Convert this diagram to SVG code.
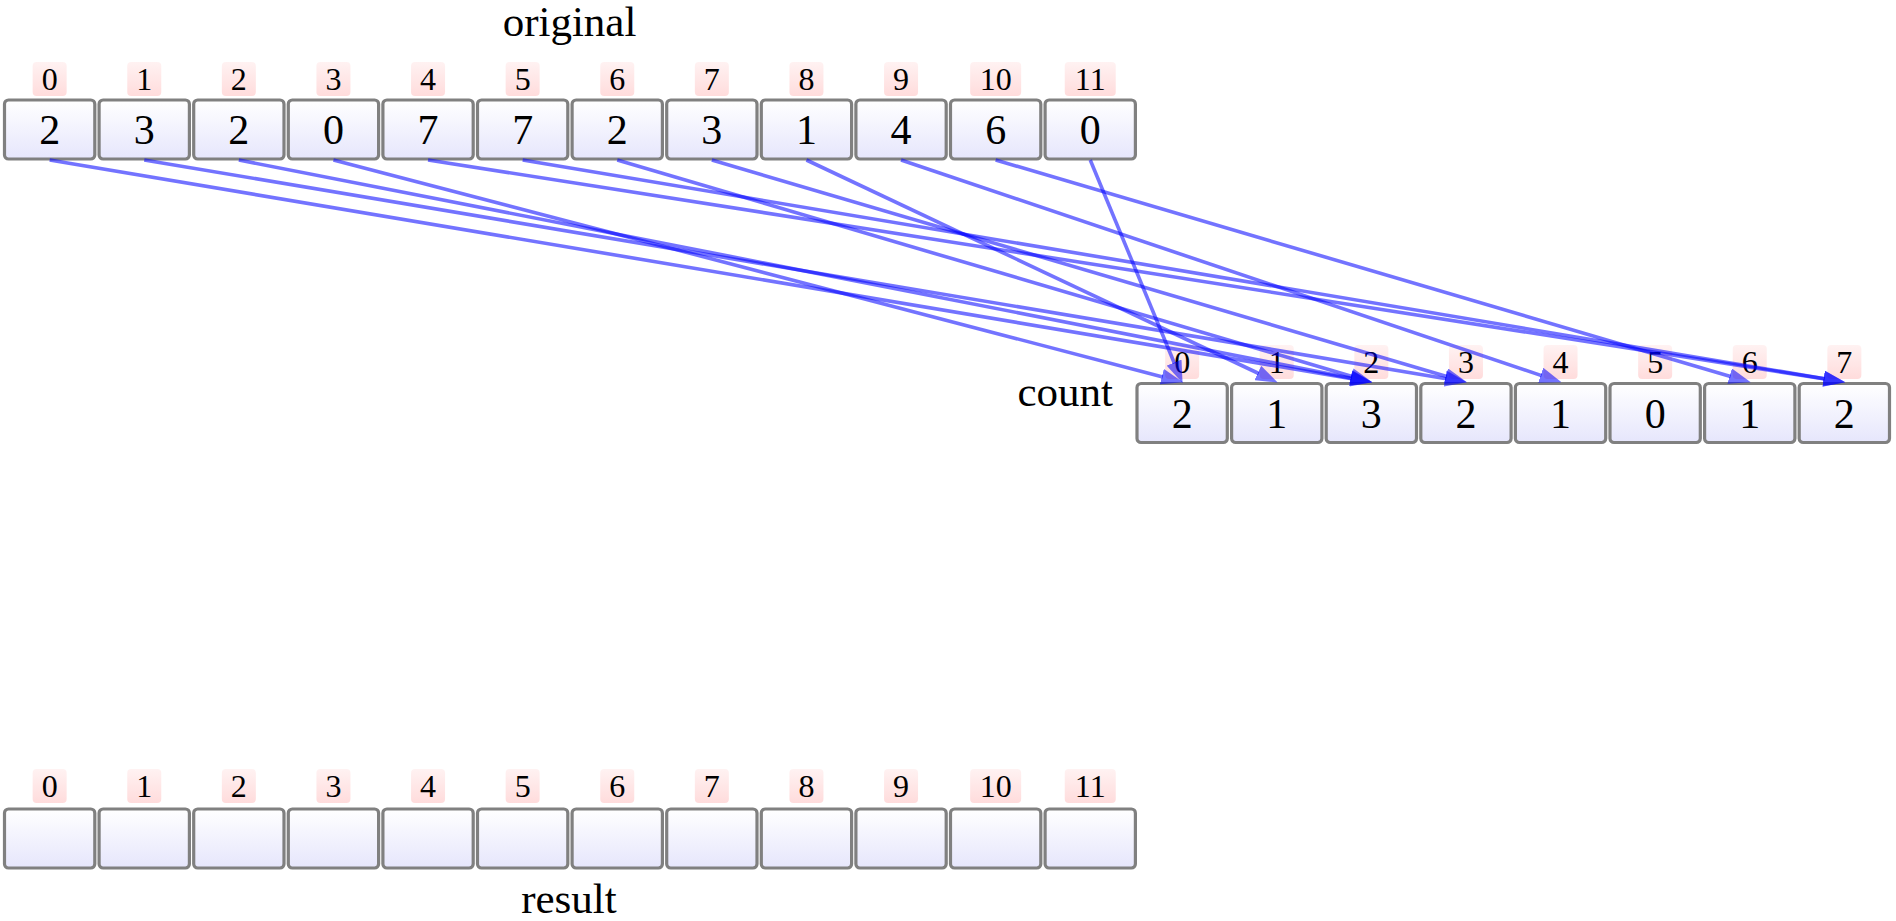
<svg xmlns="http://www.w3.org/2000/svg" width="1896" height="921" viewBox="0 0 1896 921">
<style>
.cell{fill:url(#gCell);stroke:#808080;stroke-width:3.2}
.idx{fill:url(#gIdx);stroke:none}
.vt{font-family:"Liberation Serif","Times New Roman",serif;font-size:42px;text-anchor:middle;fill:#000}
.it{font-family:"Liberation Serif","Times New Roman",serif;font-size:32px;text-anchor:middle;fill:#000}
.lbl{font-family:"Liberation Serif","Times New Roman",serif;font-size:43px;fill:#000}
.arr{fill:none;stroke:#0000ff;stroke-opacity:0.55;stroke-width:3.6;marker-end:url(#head)}
</style>
<defs>
<linearGradient id="gCell" x1="0" y1="0" x2="0" y2="1"><stop offset="0" stop-color="#ffffff"/><stop offset="1" stop-color="#e6e6fc"/></linearGradient>
<linearGradient id="gIdx" x1="0" y1="0" x2="0" y2="1"><stop offset="0" stop-color="#fff2f2"/><stop offset="1" stop-color="#ffdcdc"/></linearGradient>
<marker id="head" markerUnits="userSpaceOnUse" viewBox="0 0 22 16" markerWidth="22" markerHeight="16" refX="1" refY="8" orient="auto"><path d="M0,0 L22,8 L0,16 Z" fill="#0000ff" fill-opacity="0.55"/></marker>
</defs>
<rect width="1896" height="921" fill="#ffffff"/>

<text class="lbl" x="569.5" y="36" text-anchor="middle">original</text>
<text class="lbl" x="1113" y="406" text-anchor="end">count</text>
<text class="lbl" x="569" y="913" text-anchor="middle">result</text>

<g id="original">
<g id="orig-0" transform="translate(4.5,100)"><rect class="idx" x="28.15" y="-38" width="34" height="34" rx="4"/><text class="it" x="45.15" y="-10">0</text><rect class="cell" width="90.3" height="59" rx="4"/><text class="vt" x="45.15" y="44">2</text></g>
<g id="orig-1" transform="translate(99.1,100)"><rect class="idx" x="28.15" y="-38" width="34" height="34" rx="4"/><text class="it" x="45.15" y="-10">1</text><rect class="cell" width="90.3" height="59" rx="4"/><text class="vt" x="45.15" y="44">3</text></g>
<g id="orig-2" transform="translate(193.7,100)"><rect class="idx" x="28.15" y="-38" width="34" height="34" rx="4"/><text class="it" x="45.15" y="-10">2</text><rect class="cell" width="90.3" height="59" rx="4"/><text class="vt" x="45.15" y="44">2</text></g>
<g id="orig-3" transform="translate(288.3,100)"><rect class="idx" x="28.15" y="-38" width="34" height="34" rx="4"/><text class="it" x="45.15" y="-10">3</text><rect class="cell" width="90.3" height="59" rx="4"/><text class="vt" x="45.15" y="44">0</text></g>
<g id="orig-4" transform="translate(382.9,100)"><rect class="idx" x="28.15" y="-38" width="34" height="34" rx="4"/><text class="it" x="45.15" y="-10">4</text><rect class="cell" width="90.3" height="59" rx="4"/><text class="vt" x="45.15" y="44">7</text></g>
<g id="orig-5" transform="translate(477.5,100)"><rect class="idx" x="28.15" y="-38" width="34" height="34" rx="4"/><text class="it" x="45.15" y="-10">5</text><rect class="cell" width="90.3" height="59" rx="4"/><text class="vt" x="45.15" y="44">7</text></g>
<g id="orig-6" transform="translate(572.1,100)"><rect class="idx" x="28.15" y="-38" width="34" height="34" rx="4"/><text class="it" x="45.15" y="-10">6</text><rect class="cell" width="90.3" height="59" rx="4"/><text class="vt" x="45.15" y="44">2</text></g>
<g id="orig-7" transform="translate(666.7,100)"><rect class="idx" x="28.15" y="-38" width="34" height="34" rx="4"/><text class="it" x="45.15" y="-10">7</text><rect class="cell" width="90.3" height="59" rx="4"/><text class="vt" x="45.15" y="44">3</text></g>
<g id="orig-8" transform="translate(761.3,100)"><rect class="idx" x="28.15" y="-38" width="34" height="34" rx="4"/><text class="it" x="45.15" y="-10">8</text><rect class="cell" width="90.3" height="59" rx="4"/><text class="vt" x="45.15" y="44">1</text></g>
<g id="orig-9" transform="translate(855.9,100)"><rect class="idx" x="28.15" y="-38" width="34" height="34" rx="4"/><text class="it" x="45.15" y="-10">9</text><rect class="cell" width="90.3" height="59" rx="4"/><text class="vt" x="45.15" y="44">4</text></g>
<g id="orig-10" transform="translate(950.5,100)"><rect class="idx" x="19.65" y="-38" width="51" height="34" rx="4"/><text class="it" x="45.15" y="-10">10</text><rect class="cell" width="90.3" height="59" rx="4"/><text class="vt" x="45.15" y="44">6</text></g>
<g id="orig-11" transform="translate(1045.1,100)"><rect class="idx" x="19.65" y="-38" width="51" height="34" rx="4"/><text class="it" x="45.15" y="-10">11</text><rect class="cell" width="90.3" height="59" rx="4"/><text class="vt" x="45.15" y="44">0</text></g>
</g>

<g id="count">
<g id="count-0" transform="translate(1137,383.5)"><rect class="idx" x="28.15" y="-38.5" width="34" height="34" rx="4"/><text class="it" x="45.15" y="-11">0</text><rect class="cell" width="90.3" height="59" rx="4"/><text class="vt" x="45.15" y="44">2</text></g>
<g id="count-1" transform="translate(1231.6,383.5)"><rect class="idx" x="28.15" y="-38.5" width="34" height="34" rx="4"/><text class="it" x="45.15" y="-11">1</text><rect class="cell" width="90.3" height="59" rx="4"/><text class="vt" x="45.15" y="44">1</text></g>
<g id="count-2" transform="translate(1326.2,383.5)"><rect class="idx" x="28.15" y="-38.5" width="34" height="34" rx="4"/><text class="it" x="45.15" y="-11">2</text><rect class="cell" width="90.3" height="59" rx="4"/><text class="vt" x="45.15" y="44">3</text></g>
<g id="count-3" transform="translate(1420.8,383.5)"><rect class="idx" x="28.15" y="-38.5" width="34" height="34" rx="4"/><text class="it" x="45.15" y="-11">3</text><rect class="cell" width="90.3" height="59" rx="4"/><text class="vt" x="45.15" y="44">2</text></g>
<g id="count-4" transform="translate(1515.4,383.5)"><rect class="idx" x="28.15" y="-38.5" width="34" height="34" rx="4"/><text class="it" x="45.15" y="-11">4</text><rect class="cell" width="90.3" height="59" rx="4"/><text class="vt" x="45.15" y="44">1</text></g>
<g id="count-5" transform="translate(1610,383.5)"><rect class="idx" x="28.15" y="-38.5" width="34" height="34" rx="4"/><text class="it" x="45.15" y="-11">5</text><rect class="cell" width="90.3" height="59" rx="4"/><text class="vt" x="45.15" y="44">0</text></g>
<g id="count-6" transform="translate(1704.6,383.5)"><rect class="idx" x="28.15" y="-38.5" width="34" height="34" rx="4"/><text class="it" x="45.15" y="-11">6</text><rect class="cell" width="90.3" height="59" rx="4"/><text class="vt" x="45.15" y="44">1</text></g>
<g id="count-7" transform="translate(1799.2,383.5)"><rect class="idx" x="28.15" y="-38.5" width="34" height="34" rx="4"/><text class="it" x="45.15" y="-11">7</text><rect class="cell" width="90.3" height="59" rx="4"/><text class="vt" x="45.15" y="44">2</text></g>
</g>

<g id="result">
<g id="res-0" transform="translate(4.5,809)"><rect class="idx" x="28.15" y="-40" width="34" height="34" rx="4"/><text class="it" x="45.15" y="-12">0</text><rect class="cell" width="90.3" height="59" rx="4"/></g>
<g id="res-1" transform="translate(99.1,809)"><rect class="idx" x="28.15" y="-40" width="34" height="34" rx="4"/><text class="it" x="45.15" y="-12">1</text><rect class="cell" width="90.3" height="59" rx="4"/></g>
<g id="res-2" transform="translate(193.7,809)"><rect class="idx" x="28.15" y="-40" width="34" height="34" rx="4"/><text class="it" x="45.15" y="-12">2</text><rect class="cell" width="90.3" height="59" rx="4"/></g>
<g id="res-3" transform="translate(288.3,809)"><rect class="idx" x="28.15" y="-40" width="34" height="34" rx="4"/><text class="it" x="45.15" y="-12">3</text><rect class="cell" width="90.3" height="59" rx="4"/></g>
<g id="res-4" transform="translate(382.9,809)"><rect class="idx" x="28.15" y="-40" width="34" height="34" rx="4"/><text class="it" x="45.15" y="-12">4</text><rect class="cell" width="90.3" height="59" rx="4"/></g>
<g id="res-5" transform="translate(477.5,809)"><rect class="idx" x="28.15" y="-40" width="34" height="34" rx="4"/><text class="it" x="45.15" y="-12">5</text><rect class="cell" width="90.3" height="59" rx="4"/></g>
<g id="res-6" transform="translate(572.1,809)"><rect class="idx" x="28.15" y="-40" width="34" height="34" rx="4"/><text class="it" x="45.15" y="-12">6</text><rect class="cell" width="90.3" height="59" rx="4"/></g>
<g id="res-7" transform="translate(666.7,809)"><rect class="idx" x="28.15" y="-40" width="34" height="34" rx="4"/><text class="it" x="45.15" y="-12">7</text><rect class="cell" width="90.3" height="59" rx="4"/></g>
<g id="res-8" transform="translate(761.3,809)"><rect class="idx" x="28.15" y="-40" width="34" height="34" rx="4"/><text class="it" x="45.15" y="-12">8</text><rect class="cell" width="90.3" height="59" rx="4"/></g>
<g id="res-9" transform="translate(855.9,809)"><rect class="idx" x="28.15" y="-40" width="34" height="34" rx="4"/><text class="it" x="45.15" y="-12">9</text><rect class="cell" width="90.3" height="59" rx="4"/></g>
<g id="res-10" transform="translate(950.5,809)"><rect class="idx" x="19.65" y="-40" width="51" height="34" rx="4"/><text class="it" x="45.15" y="-12">10</text><rect class="cell" width="90.3" height="59" rx="4"/></g>
<g id="res-11" transform="translate(1045.1,809)"><rect class="idx" x="19.65" y="-40" width="51" height="34" rx="4"/><text class="it" x="45.15" y="-12">11</text><rect class="cell" width="90.3" height="59" rx="4"/></g>
</g>

<g id="connectors">
<path class="arr" d="M49.65,160 L1351.6,378.7"/>
<path class="arr" d="M144.25,160 L1446.2,378.7"/>
<path class="arr" d="M238.85,160 L1351.7,378.2"/>
<path class="arr" d="M333.45,160 L1162.8,376.9"/>
<path class="arr" d="M428.05,160 L1824.6,378.9"/>
<path class="arr" d="M522.65,160 L1824.6,378.7"/>
<path class="arr" d="M617.25,160 L1352.2,376.4"/>
<path class="arr" d="M711.85,160 L1446.8,376.4"/>
<path class="arr" d="M806.45,160 L1258.7,373.5"/>
<path class="arr" d="M901.05,160 L1541.6,375.6"/>
<path class="arr" d="M995.65,160 L1730.6,376.4"/>
<path class="arr" d="M1090.25,160 L1174.5,363.5"/>
</g>
</svg>
